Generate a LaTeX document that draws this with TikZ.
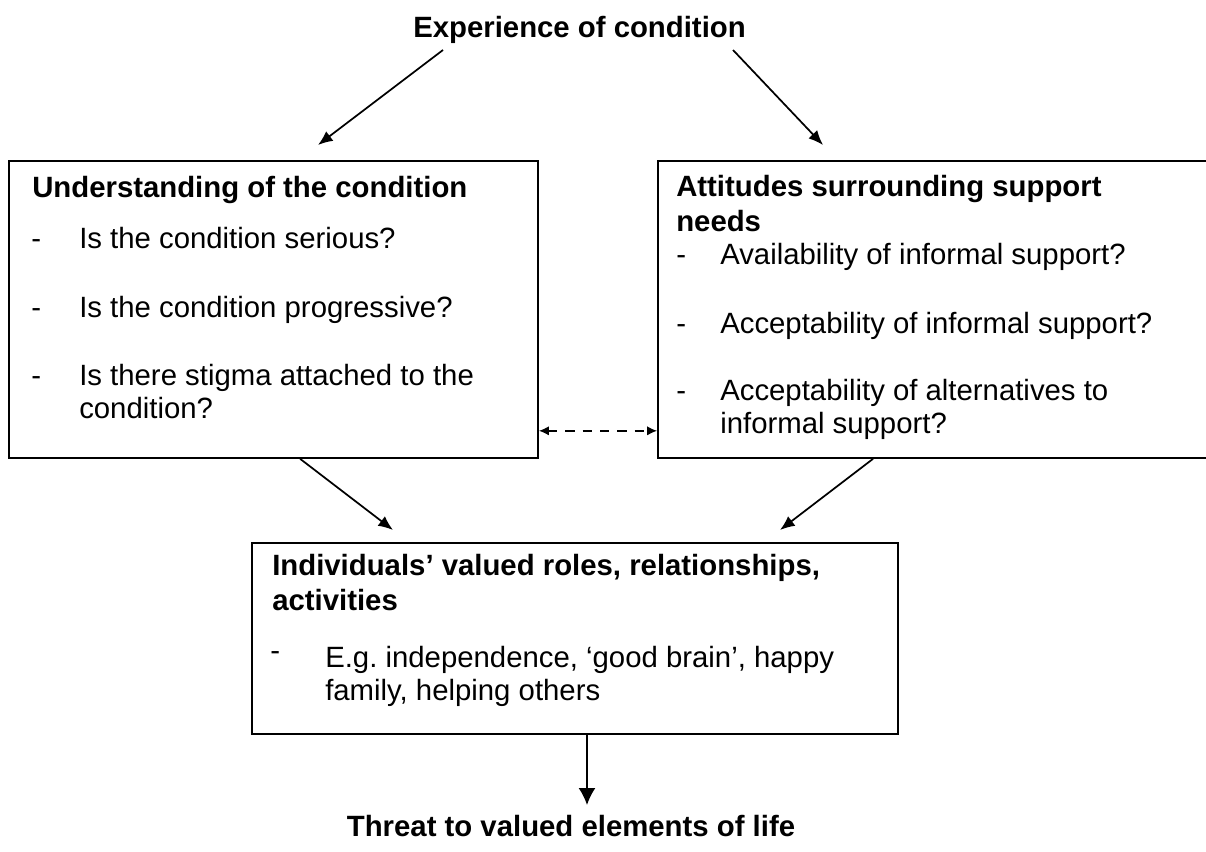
\documentclass[tikz,border=0pt]{standalone}
\usepackage{fontspec}
\setmainfont{Liberation Sans}
\usetikzlibrary{arrows.meta}

\tikzset{
  box/.style={draw, line width=1.3pt, inner sep=0pt},
  txt/.style={anchor=base west, inner sep=0pt, font=\fontsize{22}{26}\selectfont},
  hd/.style={txt, font=\fontsize{22}{26}\selectfont\bfseries},
  link/.style={line width=1.3pt, -{Latex[length=11pt,width=9pt]}},
}

\begin{document}
\begin{tikzpicture}[x=0.75pt,y=-0.75pt]
                    \useasboundingbox (0,0) rectangle (1206,852);
                    % Top
                    \node[hd] (E) at (413,38) {Experience of condition};
                    % Boxes
                    \draw (273.5,309.5) node[box,minimum width=396.75pt,minimum height=222.75pt] (U) {};
                    \draw (934,309.5) node[box,minimum width=414pt,minimum height=222.75pt] (A) {};
                    \draw (575,638.5) node[box,minimum width=484.5pt,minimum height=143.25pt] (V) {};
                    % Understanding
                    \node[hd] (U0) at (32,198) {Understanding of the condition};
                    \node[txt] (Ud1) at (31,249) {-};
                    \node[txt] (U1) at (79,249) {Is the condition serious?};
                    \node[txt] (Ud2) at (31,317) {-};
                    \node[txt] (U2) at (79,317) {Is the condition progressive?};
                    \node[txt] (Ud3) at (31,385) {-};
                    \node[txt] (U3) at (79,385) {Is there stigma attached to the};
                    \node[txt] (U3b) at (79,418) {condition?};
                    % Attitudes
                    \node[hd] (A0) at (676,197) {Attitudes surrounding support};
                    \node[hd] (A0b) at (676,232) {needs};
                    \node[txt] (Ad1) at (676,265) {-};
                    \node[txt] (A1) at (720,265) {Availability of informal support?};
                    \node[txt] (Ad2) at (676,333) {-};
                    \node[txt] (A2) at (720,333) {Acceptability of informal support?};
                    \node[txt] (Ad3) at (676,400) {-};
                    \node[txt] (A3) at (720,400) {Acceptability of alternatives to};
                    \node[txt] (A3b) at (720,433) {informal support?};
                    % Valued
                    \node[hd] (V0) at (272,575) {Individuals’ valued roles, relationships,};
                    \node[hd] (V0b) at (272,610) {activities};
                    \node[txt] (Vd1) at (270,660) {-};
                    \node[txt] (V1) at (325,667) {E.g.\ independence, ‘good brain’, happy};
                    \node[txt] (V1b) at (325,700) {family, helping others};
                    % Bottom
                    \node[hd,anchor=base] (T) at (571,836) {Threat to valued elements of life};
                    % Ends
                    \coordinate (E-l) at (443,50);
                    \coordinate (E-r) at (733,50);
                    \coordinate (U-in) at (318,145);
                    \coordinate (A-in) at (823,145);
                    \coordinate (V-l) at (393,530);
                    \coordinate (V-r) at (780,530);
                    \coordinate (T-in) at (587,805);
                    % Links
                    \draw [link] (E-l)--(U-in);
                    \draw [link] (E-r)--(A-in);
                    \draw [link] ([xshift=20pt]U.south)--(V-l);
                    \draw [link] ([xshift=-45.75pt]A.south)--(V-r);
                    \draw [line width=1.3pt,dash pattern=on 7pt off 6pt,{Latex[length=7.5pt,width=7pt]}-{Latex[length=7.5pt,width=7pt]}] ([yshift=-91pt]U.east)--([yshift=-91pt]A.west);
                    \draw [line width=1.3pt,-{Latex[length=12.75pt,width=12.75pt]}] ([xshift=9pt]V.south)--(T-in);
                \end{tikzpicture}
\end{document}
